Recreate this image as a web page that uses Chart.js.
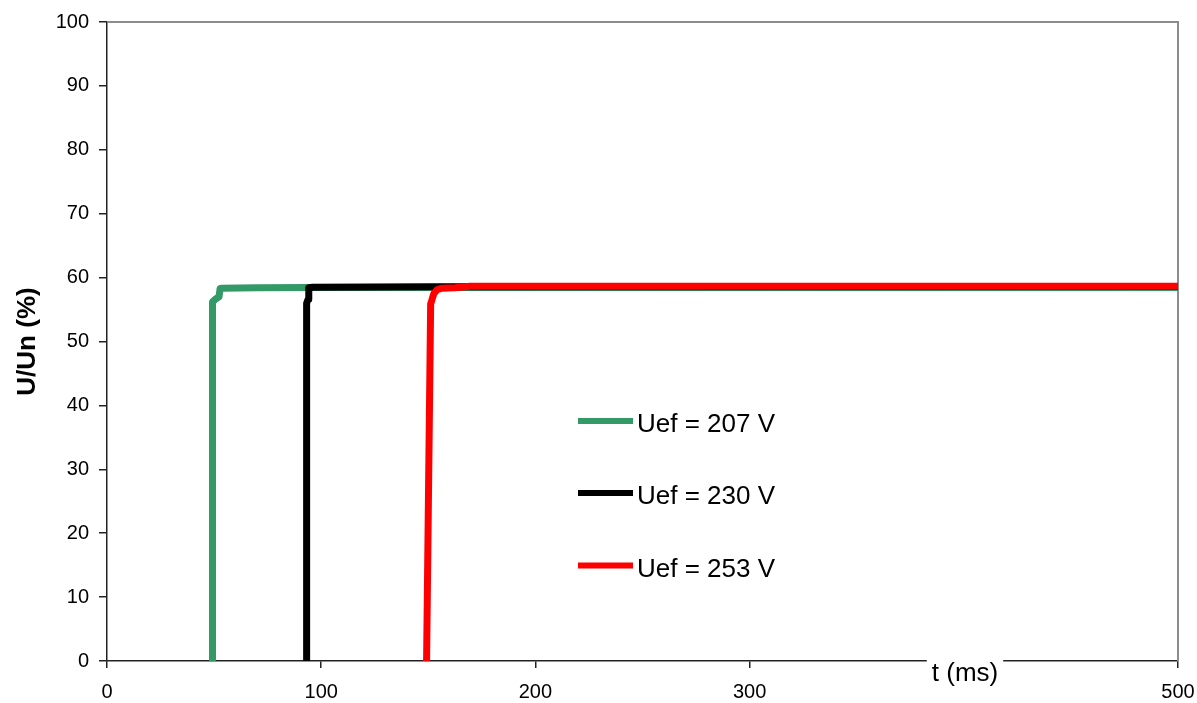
<!DOCTYPE html>
<html><head><meta charset="utf-8">
<script src="https://cdn.jsdelivr.net/npm/chart.js@4/dist/chart.umd.min.js"></script>
<style>html,body{margin:0;padding:0;background:#fff;}#wrap{width:1197px;height:703px;}</style>
</head><body><div id="wrap"><canvas id="c" width="1197" height="703"></canvas></div>
<script>
// ---- data ----
const seriesLabels = ['Uef = 207 V', 'Uef = 230 V', 'Uef = 253 V'];
const seriesColors = ['#339966', '#000000', '#ff0000'];

const t207 = [49.25, 49.25, 50.9, 52.3, 52.8, 53.7, 70, 95, 200, 500];
const u207 = [0, 56.2, 56.7, 57.0, 58.3, 58.35, 58.4, 58.45, 58.45, 58.45];

const t230 = [93.2, 93.2, 93.9, 94.2, 96, 150, 500];
const u230 = [0, 56.0, 56.6, 58.4, 58.5, 58.55, 58.6];

const t253 = [149.2, 151.1, 151.6, 152.6, 154.1, 156.4, 162.5, 169.5, 500];
const u253 = [0, 55.9, 56.4, 57.5, 58.1, 58.35, 58.4, 58.65, 58.65];

const xTickValues = [0, 100, 200, 300, 400, 500];
const yTickValues = [0, 10, 20, 30, 40, 50, 60, 70, 80, 90, 100];
const xTitle = 't (ms)';
const yTitle = 'U/Un (%)';

const FONT = "'Liberation Sans', Arial, sans-serif";

function pts(t, u) { return t.map((v, i) => ({ x: v, y: u[i] })); }

const frameAndTitle = {
  id: 'frameAndTitle',
  beforeDatasetsDraw(chart) {
    const { ctx, chartArea: a } = chart;
    ctx.save();
    ctx.strokeStyle = '#8c8c8c';
    ctx.lineWidth = 2;
    ctx.beginPath();
    ctx.moveTo(a.left, a.top);
    ctx.lineTo(a.right, a.top);
    ctx.lineTo(a.right, a.bottom);
    ctx.stroke();
    ctx.restore();
  },
  afterDraw(chart) {
    const { ctx, chartArea: a } = chart;
    ctx.save();
    // x-axis title box (covers axis like the original)
    const cx = 965;
    ctx.font = '26px ' + FONT;
    const w = ctx.measureText(xTitle).width;
    ctx.fillStyle = '#ffffff';
    ctx.fillRect(cx - w / 2 - 5, a.bottom - 6, w + 10, 50);
    ctx.fillStyle = '#000';
    ctx.textAlign = 'center';
    ctx.textBaseline = 'alphabetic';
    ctx.fillText(xTitle, cx, a.bottom + 20);

    // legend inside plot
    const lx = 578, lineLen = 55, ys = [421, 493, 565.5];
    chart.data.datasets.forEach((ds, i) => {
      const y = ys[i];
      ctx.strokeStyle = ds.borderColor;
      ctx.lineWidth = 6;
      ctx.lineCap = 'butt';
      ctx.beginPath();
      ctx.moveTo(lx, y);
      ctx.lineTo(lx + lineLen, y);
      ctx.stroke();
      ctx.fillStyle = '#000';
      ctx.textAlign = 'left';
      ctx.textBaseline = 'alphabetic';
      ctx.font = '26px ' + FONT;
      ctx.fillText(ds.label, lx + lineLen + 4, y + 11);
    });
    ctx.restore();
  }
};

const seriesT = [t207, t230, t253];
const seriesU = [u207, u230, u253];

new Chart(document.getElementById('c'), {
  type: 'line',
  data: {
    datasets: seriesLabels.map((lab, i) => ({
      label: lab,
      data: pts(seriesT[i], seriesU[i]),
      borderColor: seriesColors[i],
      backgroundColor: seriesColors[i],
      borderWidth: 7,
      pointRadius: 0,
      tension: 0,
      fill: false,
      borderJoinStyle: 'round',
      order: 3 - i
    }))
  },
  options: {
    responsive: false,
    animation: false,
    devicePixelRatio: 1,
    layout: { padding: { top: 22, right: 19, bottom: 0, left: 0 } },
    plugins: { legend: { display: false }, tooltip: { enabled: false } },
    scales: {
      x: {
        type: 'linear', min: 0, max: 500,
        afterBuildTicks: s => { s.ticks = xTickValues.map(v => ({ value: v })); },
        afterFit: s => { s.height = 42; s.paddingLeft = 0; s.paddingRight = 0; },
        ticks: { font: { family: FONT, size: 20 }, color: '#000', padding: 12, maxRotation: 0, autoSkip: false },
        grid: { drawOnChartArea: false, drawTicks: true, tickLength: 7, color: '#222', lineWidth: 1.5 },
        border: { display: true, color: '#222', width: 1.5 }
      },
      y: {
        min: 0, max: 100,
        afterBuildTicks: s => { s.ticks = yTickValues.map(v => ({ value: v })); },
        afterFit: s => { s.width = 107; s.paddingTop = 0; s.paddingBottom = 0; },
        ticks: { font: { family: FONT, size: 20 }, color: '#000', padding: 10, autoSkip: false },
        grid: { drawOnChartArea: false, drawTicks: true, tickLength: 8, color: '#222', lineWidth: 1.5 },
        border: { display: true, color: '#222', width: 1.5 },
        title: { display: true, text: yTitle, color: '#000', font: { family: FONT, size: 26, weight: 'bold' }, padding: { top: 12, bottom: 0 } }
      }
    }
  },
  plugins: [frameAndTitle]
});
</script></body></html>
